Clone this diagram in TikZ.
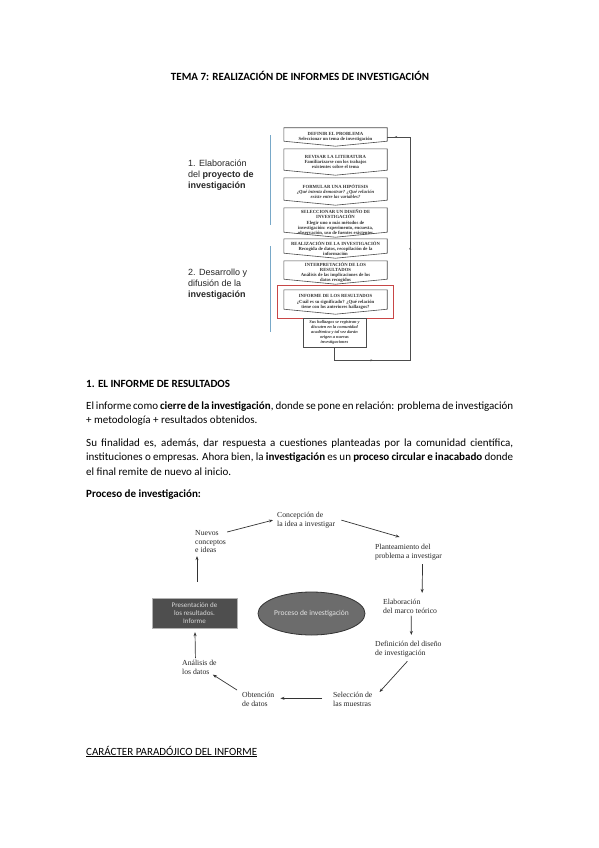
\documentclass[tikz,border=0pt]{standalone}
\usepackage{fontspec}
\setmainfont{Carlito}
\newfontfamily\arialfont{Liberation Sans}
\newfontfamily\timesfont{Liberation Serif}
\usepackage{tikz}
\usetikzlibrary{positioning,arrows.meta,shapes.geometric,calc,fit,decorations.markings}
\definecolor{bracketblue}{RGB}{120,168,200}
\definecolor{framered}{RGB}{200,70,70}
\definecolor{boxgray}{RGB}{78,78,78}
\definecolor{ovalgray}{RGB}{108,108,108}

\begin{document}
\begin{tikzpicture}[x=1pt,y=-1pt,
  every node/.style={inner sep=0pt},
  bodytext/.style={anchor=base west,font=\fontsize{11}{13}\selectfont},
  boldtext/.style={anchor=base west,font=\bfseries\fontsize{11}{13}\selectfont},
  stagebox/.style={minimum width=103pt,align=center,inner sep=1pt,
    font=\timesfont\bfseries\fontsize{4.7}{5.2}\selectfont,text=black!80},
  stageline/.style={draw=black!70,line width=0.6pt},
  sidelabel/.style={anchor=north west,align=left,text=black!85,
    font=\arialfont\fontsize{9}{11}\selectfont},
  bracket/.style={draw=bracketblue,line width=0.8pt},
  cyctext/.style={anchor=north west,align=left,text=black!85,
    font=\timesfont\fontsize{7.7}{8.8}\selectfont},
  cycarrow/.style={draw=black!80,line width=0.7pt,-{Stealth[length=4pt,width=3pt]}},
  loopline/.style={draw=black!70,line width=0.6pt,postaction=decorate,
    decoration={markings,
      mark=at position 51.5pt with {\arrow{Stealth[length=2.5pt,width=2pt]}},
      mark=at position 202pt with {\arrow{Stealth[length=2.5pt,width=2pt]}},
      mark=at position 327.5pt with {\arrow{Stealth[length=2.5pt,width=2pt]}}}}
]
\fill[white] (0,0) rectangle (599,848);
\useasboundingbox (0,0) rectangle (599,848);

% Title
\node[boldtext,anchor=base] (title) at (300,80.5)
  {TEMA 7: REALIZACIÓN DE INFORMES DE INVESTIGACIÓN};

% Stages of the research project
\node[sidelabel] (lab1) at (188,160)
  {1. Elaboración\\del \textbf{proyecto de}\\\textbf{investigación}};
\node[sidelabel] (lab2) at (188,269)
  {2. Desarrollo y\\difusión de la\\\textbf{investigación}};
\draw[bracket] (270,135) -- (270,225);
\draw[bracket] (270,246) -- (270,332);

\node[stagebox,minimum height=18pt] (s1) at (335.5,137)
  {DEFINIR EL PROBLEMA\\Seleccionar un tema de investigación};
\node[stagebox,minimum height=26pt] (s2) at (335.5,162)
  {REVISAR LA LITERATURA\\Familiarizarse con los trabajos\\existentes sobre el tema};
\node[stagebox,minimum height=27pt] (s3) at (335.5,191.5)
  {FORMULAR UNA HIPÓTESIS\\\itshape ¿Qué intenta demostrar? ¿Qué relación\\
   \itshape existe entre las variables?};
\node[stagebox,minimum height=29pt] (s4) at (335.5,222.5)
  {SELECCIONAR UN DISEÑO DE\\INVESTIGACIÓN\\Elegir uno o más métodos de\\
   investigación: experimento, encuesta,\\observación, uso de fuentes existentes};
\node[stagebox,minimum height=19pt] (s5) at (335.5,248.5)
  {REALIZACIÓN DE LA INVESTIGACIÓN\\Recogida de datos, recopilación de la\\información};
\node[stagebox,minimum height=23pt] (s6) at (335.5,272.5)
  {INTERPRETACIÓN DE LOS\\RESULTADOS\\Análisis de las implicaciones de los\\
   datos recogidos};
\node[stagebox,minimum height=24pt] (s7) at (335.5,302)
  {INFORME DE LOS RESULTADOS\\¿Cuál es su significado? ¿Qué relación\\
   tiene con los anteriores hallazgos?};
\foreach \s in {s1,s2,s3,s4,s5,s6,s7}
  \draw[stageline] (\s.north west) -- (\s.north east) -- ($(\s.south east)+(0,-5)$)
    -- (\s.south) -- ($(\s.south west)+(0,-5)$) -- cycle;
\node[draw=framered,line width=0.8pt,fit=(s7),inner xsep=6pt,inner ysep=4pt] (redframe) {};
\node[draw=black!70,line width=0.6pt,minimum width=63pt,minimum height=29pt,align=center,
  text=black!80,font=\timesfont\bfseries\itshape\fontsize{4.4}{5.1}\selectfont] (s8)
  at (334.5,332.5)
  {Sus hallazgos se registran y\\discuten en la comunidad\\académica y tal vez darán\\
   origen a nuevas\\investigaciones};
% Feedback loop
\draw[loopline] (s8.south) -- ++(0,13) -| ($(s1.east)+(23,0)$) -- (s1.east);

% Text
\node[boldtext] (sec1) at (86,387) {1. EL INFORME DE RESULTADOS};
\node[bodytext] (par1a) at (86,409) {\makebox[427pt][s]{El informe como
  \textbf{cierre de la investigación}, donde se pone en relación: problema de investigación}};
\node[bodytext] (par1b) at (86,423.5) {+ metodología + resultados obtenidos.};
\node[bodytext] (par2a) at (86,446) {\makebox[427pt][s]{Su finalidad es, además, dar
  respuesta a cuestiones planteadas por la comunidad científica,}};
\node[bodytext] (par2b) at (86,460.5) {\makebox[427pt][s]{instituciones o empresas. Ahora
  bien, la \textbf{investigación} es un \textbf{proceso circular e inacabado} donde}};
\node[bodytext] (par2c) at (86,475) {el final remite de nuevo al inicio.};
\node[boldtext] (proc) at (86,497.5) {Proceso de investigación:};

% Research cycle
\node[cyctext] (conc) at (277,512) {Concepción de\\la idea a investigar};
\node[cyctext] (plant) at (375,544) {Planteamiento del\\problema a investigar};
\node[cyctext] (marco) at (383,599) {Elaboración\\del marco teórico};
\node[cyctext] (diseno) at (375,641) {Definición del diseño\\de investigación};
\node[cyctext] (muestras) at (333,692) {Selección de\\las muestras};
\node[cyctext] (obt) at (242,692) {Obtención\\de datos};
\node[cyctext] (anal) at (182,660) {Análisis de\\los datos};
\node[cyctext] (nuevos) at (195,530) {Nuevos\\conceptos\\e ideas};
\node[fill=boxgray,draw=gray!60,minimum width=85pt,minimum height=30pt,align=center,
  text=white!85!black,font=\fontsize{7}{8}\selectfont] (pres) at (194.5,613)
  {Presentación de\\los resultados.\\Informe};
\node[ellipse,fill=ovalgray,draw=gray!40!black,line width=0.8pt,minimum width=107pt,
  minimum height=43pt,text=white!90!black,font=\fontsize{7.5}{9}\selectfont] (oval)
  at (311.5,613.5) {Proceso de investigación};

\draw[cycarrow] ($(nuevos.north east)+(1,2)$) -- ($(conc.west)+(-4,0)$);
\draw[cycarrow] ($(conc.east)+(6,0)$) -- ($(plant.north)+(-9,-7)$);
\draw[cycarrow] ($(plant.south)+(14,4)$) -- ($(marco.north)+(12,-6)$);
\draw[cycarrow] ($(marco.south)+(1,2)$) -- ($(diseno.north)+(3,-6)$);
\draw[cycarrow] ($(diseno.south)+(-1,4)$) -- ($(muestras.north east)+(7,0)$);
\draw[cycarrow] ($(muestras.west)+(-11,-1)$) -- ($(obt.east)+(6,-1)$);
\draw[cycarrow] ($(obt.north west)+(-5,-2)$) -- ($(anal.south east)+(-4,0)$);
\draw[cycarrow] ($(anal.north)+(-4,-2)$) -- ($(pres.south)+(0.5,4)$);
\draw[cycarrow] ($(pres.north)+(2.5,-16)$) -- ($(nuevos.south west)+(2,3)$);

\node[bodytext] (sec2) at (86,755) {\underline{CARÁCTER PARADÓJICO DEL INFORME}};
\end{tikzpicture}
\end{document}
